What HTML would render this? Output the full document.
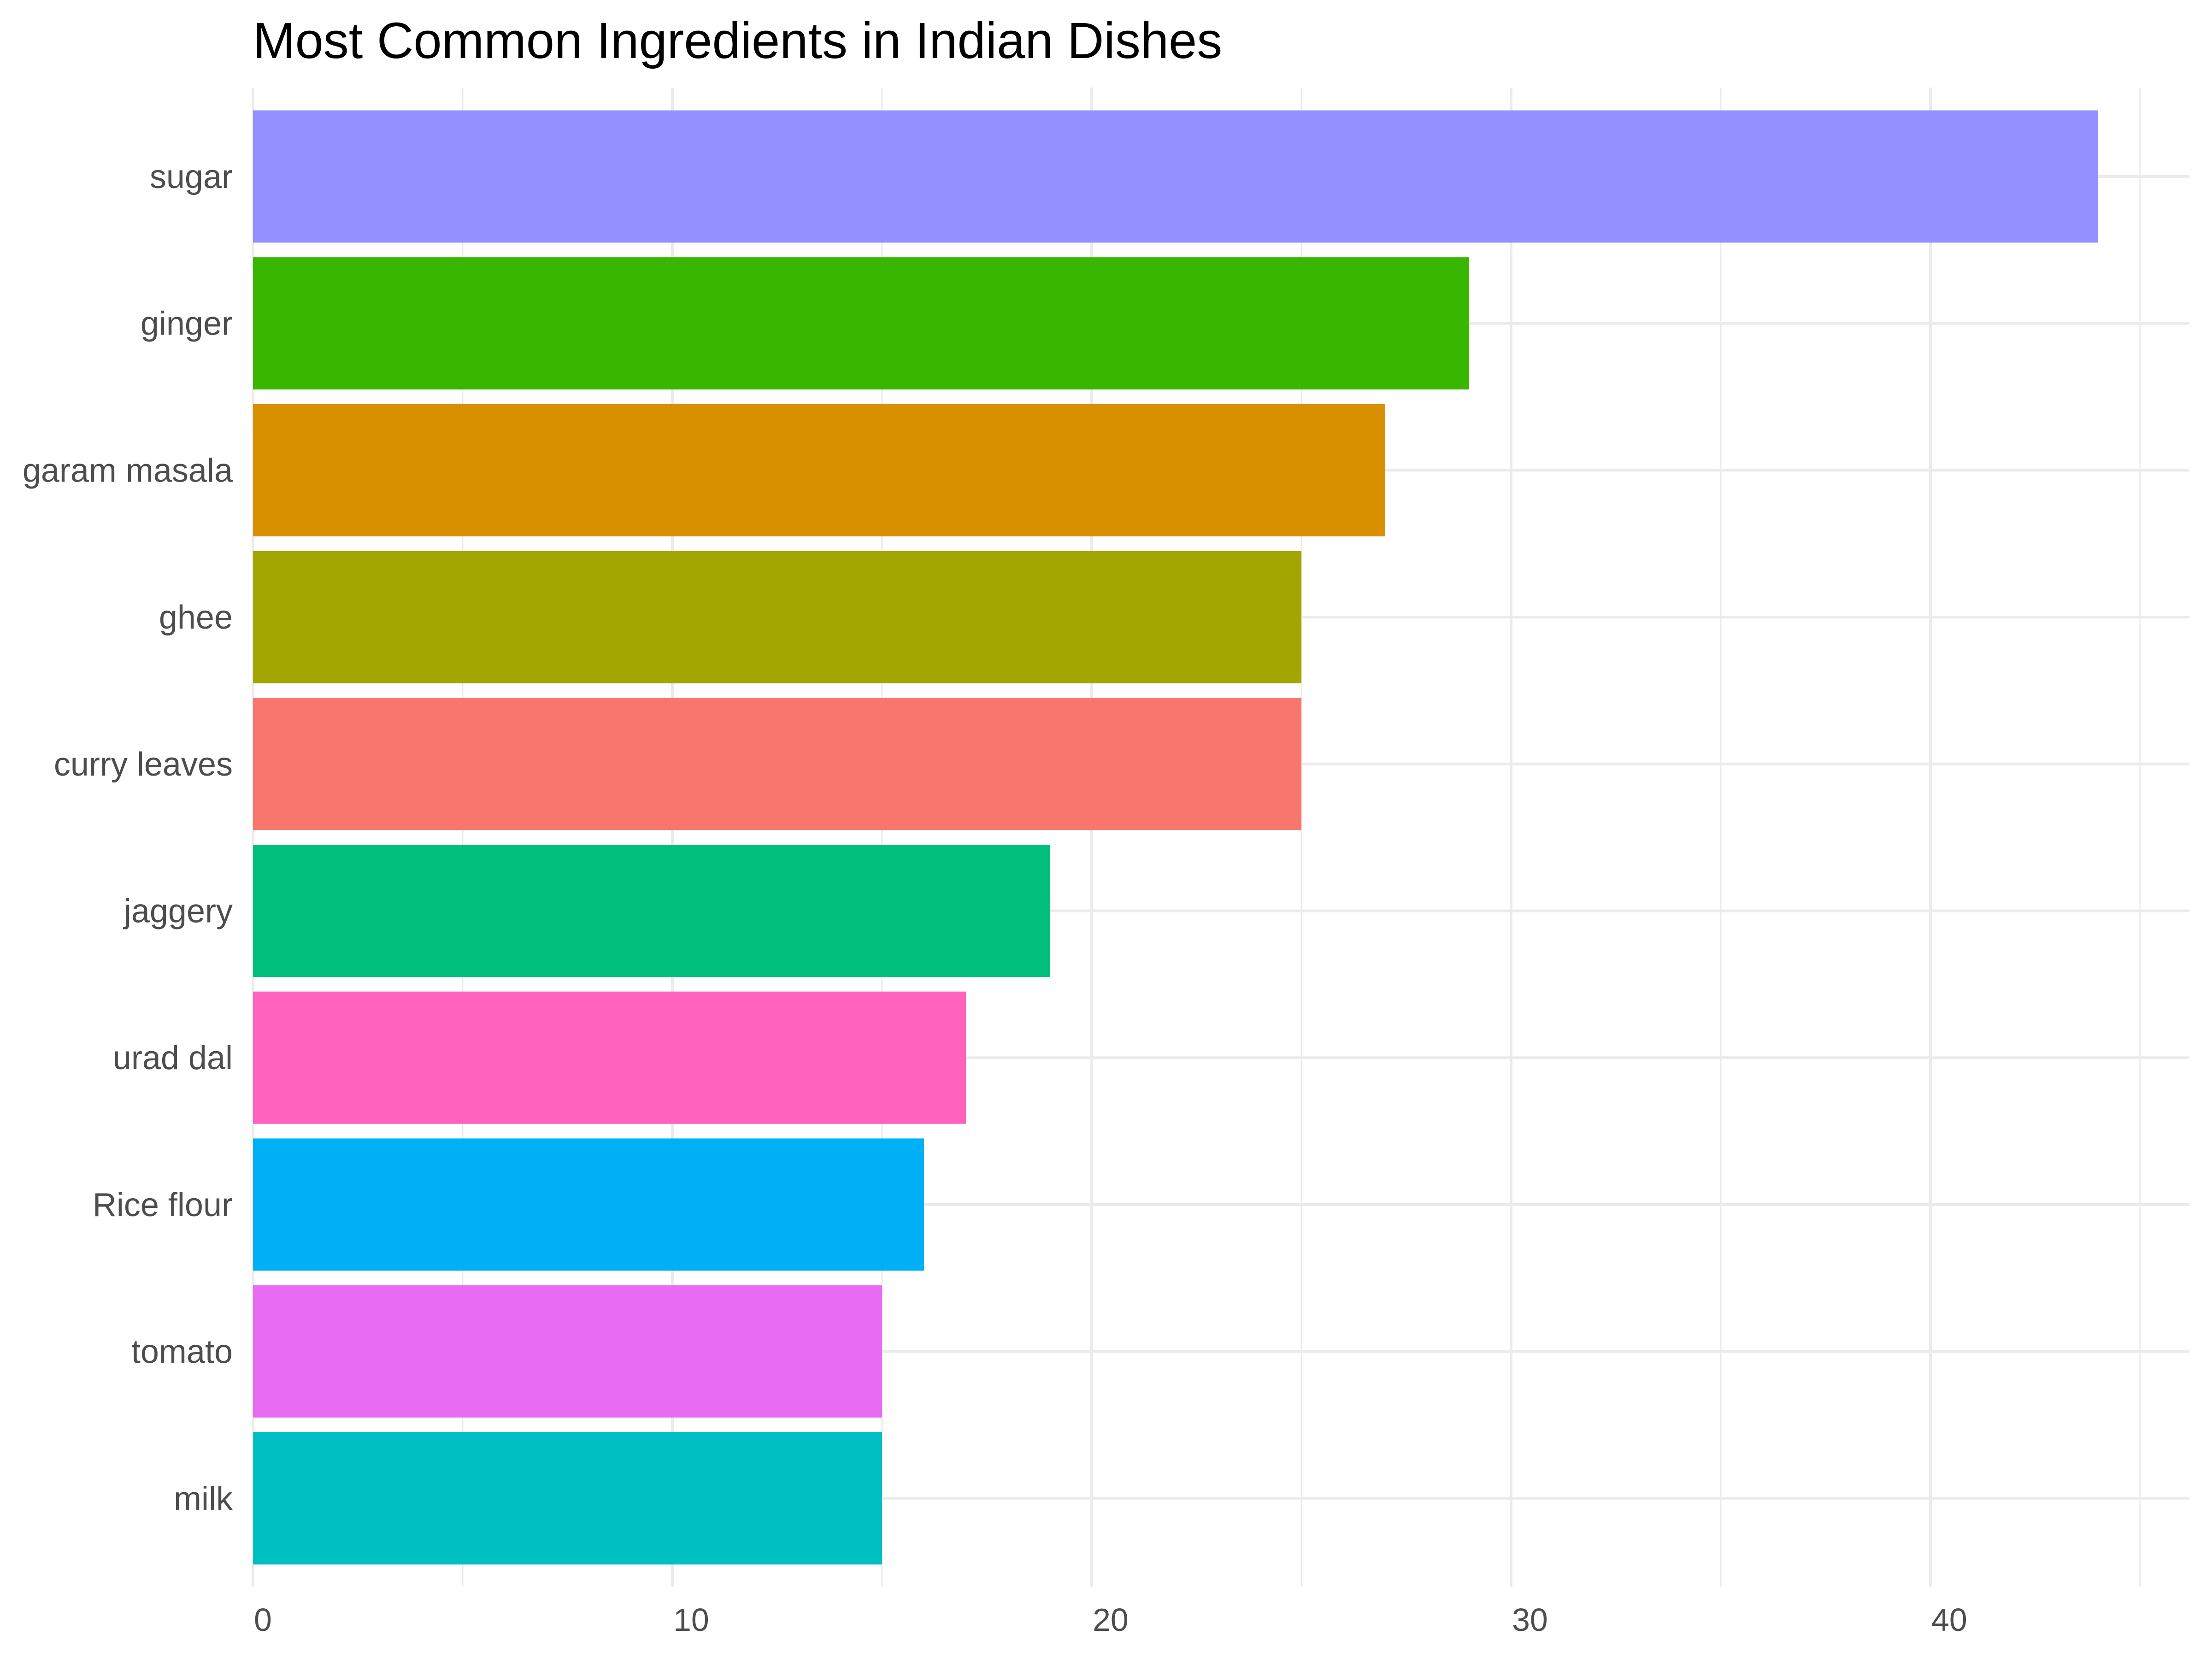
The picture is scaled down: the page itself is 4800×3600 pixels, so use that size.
<!DOCTYPE html>
<html><head><meta charset="utf-8"><style>
html,body{margin:0;padding:0;background:#fff;}
svg{display:block;font-family:"Liberation Sans",sans-serif;}
</style></head><body>
<svg id="chart" width="4800" height="3600" viewBox="0 0 4800 3600" xmlns="http://www.w3.org/2000/svg">
<rect width="4800" height="3600" fill="#fff"/>
<text x="549" y="126" font-size="110" fill="#000">Most Common Ingredients in Indian Dishes</text>
<g id="grid"></g><g id="bars"></g><g id="ylabels"></g><g id="xlabels"></g>
</svg>
<script>
const categories = ["sugar","ginger","garam masala","ghee","curry leaves","jaggery","urad dal","Rice flour","tomato","milk"];
const values = [44,29,27,25,25,19,17,16,15,15];
const colors = ["#9590FF","#39B600","#D89000","#A3A500","#F8766D","#00BF7D","#FF62BC","#00B0F6","#E76BF3","#00BFC4"];
const majorTicks = [0,10,20,30,40];
const minorTicks = [5,15,25,35,45];

const NS="http://www.w3.org/2000/svg";
const x0=549, pxPerUnit=91.0, panelTop=190, panelBottom=3443, panelRight=4751;
const firstCenter=383, step=318.7, barH=287;
const xs=v=>x0+v*pxPerUnit;
const ys=i=>firstCenter+i*step;
function mk(tag,attrs,parent){const e=document.createElementNS(NS,tag);for(const k in attrs)e.setAttribute(k,attrs[k]);parent.appendChild(e);return e;}
const grid=document.getElementById('grid'),bars=document.getElementById('bars'),yl=document.getElementById('ylabels'),xl=document.getElementById('xlabels');
minorTicks.forEach(t=>{
  const l=mk('line',{x1:xs(t),x2:xs(t),y1:panelTop,y2:panelBottom,stroke:'#EBEBEB','stroke-width':3},grid);
  
  
});
majorTicks.forEach(t=>{
  const l=mk('line',{x1:xs(t),x2:xs(t),y1:panelTop,y2:panelBottom,stroke:'#EBEBEB','stroke-width':6},grid);
  
  
  const tx=mk('text',{x:xs(t)+2,y:3539,'font-size':70,fill:'#4D4D4D'},xl);
  tx.textContent=t;
  
  
});
categories.forEach((c,i)=>{
  const g=mk('line',{x1:x0,x2:panelRight,y1:ys(i),y2:ys(i),stroke:'#EBEBEB','stroke-width':6},grid);
  
  
  const r=mk('rect',{x:xs(0),y:ys(i)-barH/2,width:xs(values[i])-xs(0),height:barH,fill:colors[i]},bars);
  
  
  const t=mk('text',{x:505,y:ys(i)+25,'font-size':72,fill:'#4D4D4D','text-anchor':'end'},yl);
  t.textContent=c;
  
  
});
</script>
</body></html>
